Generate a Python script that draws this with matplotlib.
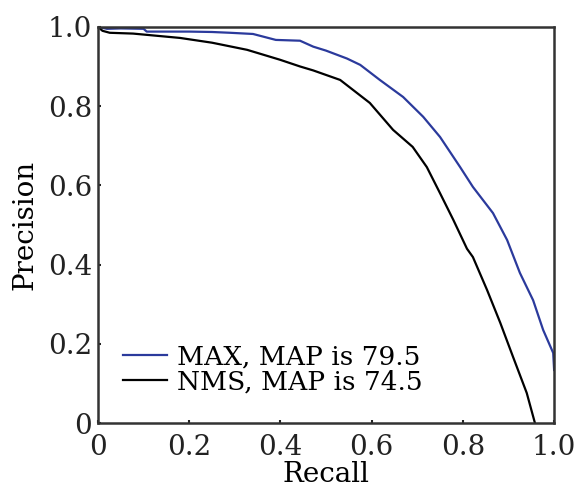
import matplotlib
matplotlib.use("Agg")
import matplotlib.pyplot as plt

# Precision-recall curves
max_recall = [0.0, 0.02, 0.05, 0.10, 0.107, 0.15, 0.20, 0.25, 0.29, 0.34, 0.39, 0.443,
              0.472, 0.50, 0.546, 0.575, 0.618, 0.669, 0.713, 0.75, 0.794, 0.822,
              0.866, 0.897, 0.925, 0.954, 0.976, 0.998, 1.0]
max_precision = [1.0, 0.995, 0.996, 0.995, 0.988, 0.988, 0.988, 0.987, 0.985, 0.982, 0.967, 0.965,
                 0.95, 0.94, 0.92, 0.904, 0.866, 0.823, 0.773, 0.722, 0.646, 0.596,
                 0.530, 0.462, 0.379, 0.31, 0.235, 0.177, 0.134]

nms_recall = [0.0, 0.01, 0.026, 0.077, 0.18, 0.25, 0.327, 0.399, 0.443, 0.472, 0.531,
              0.596, 0.647, 0.69, 0.721, 0.75, 0.779, 0.809, 0.822, 0.853, 0.882,
              0.91, 0.94, 0.958]
nms_precision = [1.0, 0.99, 0.985, 0.983, 0.972, 0.96, 0.942, 0.917, 0.9, 0.89, 0.866,
                 0.808, 0.74, 0.697, 0.646, 0.58, 0.513, 0.44, 0.419, 0.336, 0.253,
                 0.167, 0.076, 0.0]

labels = ["MAX, MAP is 79.5", "NMS, MAP is 74.5"]
xticks = [0, 0.2, 0.4, 0.6, 0.8, 1.0]
xticklabels = ["0", "0.2", "0.4", "0.6", "0.8", "1.0"]
yticks = [0, 0.2, 0.4, 0.6, 0.8, 1.0]
yticklabels = ["0", "0.2", "0.4", "0.6", "0.8", "1.0"]

plt.rcParams['font.family'] = ['DejaVu Serif']
plt.rcParams['font.size'] = 20

fig = plt.figure(figsize=(5.76, 4.88), dpi=100)
ax = fig.add_axes([0.170, 0.133, 0.792, 0.812])

ax.plot(max_recall, max_precision, color="#2b3a9c", lw=1.6, label=labels[0])
ax.plot(nms_recall, nms_precision, color="black", lw=1.6, label=labels[1])

ax.set_xlim(0, 1)
ax.set_ylim(0, 1)
ax.set_xticks(xticks)
ax.set_xticklabels(xticklabels)
ax.set_yticks(yticks)
ax.set_yticklabels(yticklabels)
ax.tick_params(direction="in", length=2, width=1.5, colors="#222222")
ax.tick_params(axis="x", pad=8)
ax.tick_params(axis="y", pad=4)
for s in ax.spines.values():
    s.set_color("#333333")
    s.set_linewidth(1.8)

ax.set_xlabel("Recall", labelpad=0)
ax.set_ylabel("Precision", labelpad=7)

ax.legend(loc="lower left", frameon=False, fontsize=19, handlelength=1.67,
          handletextpad=0.38, borderaxespad=0, borderpad=0, labelspacing=0.0,
          bbox_to_anchor=(0.055, 0.073))

fig.savefig("out.png", dpi=100)
